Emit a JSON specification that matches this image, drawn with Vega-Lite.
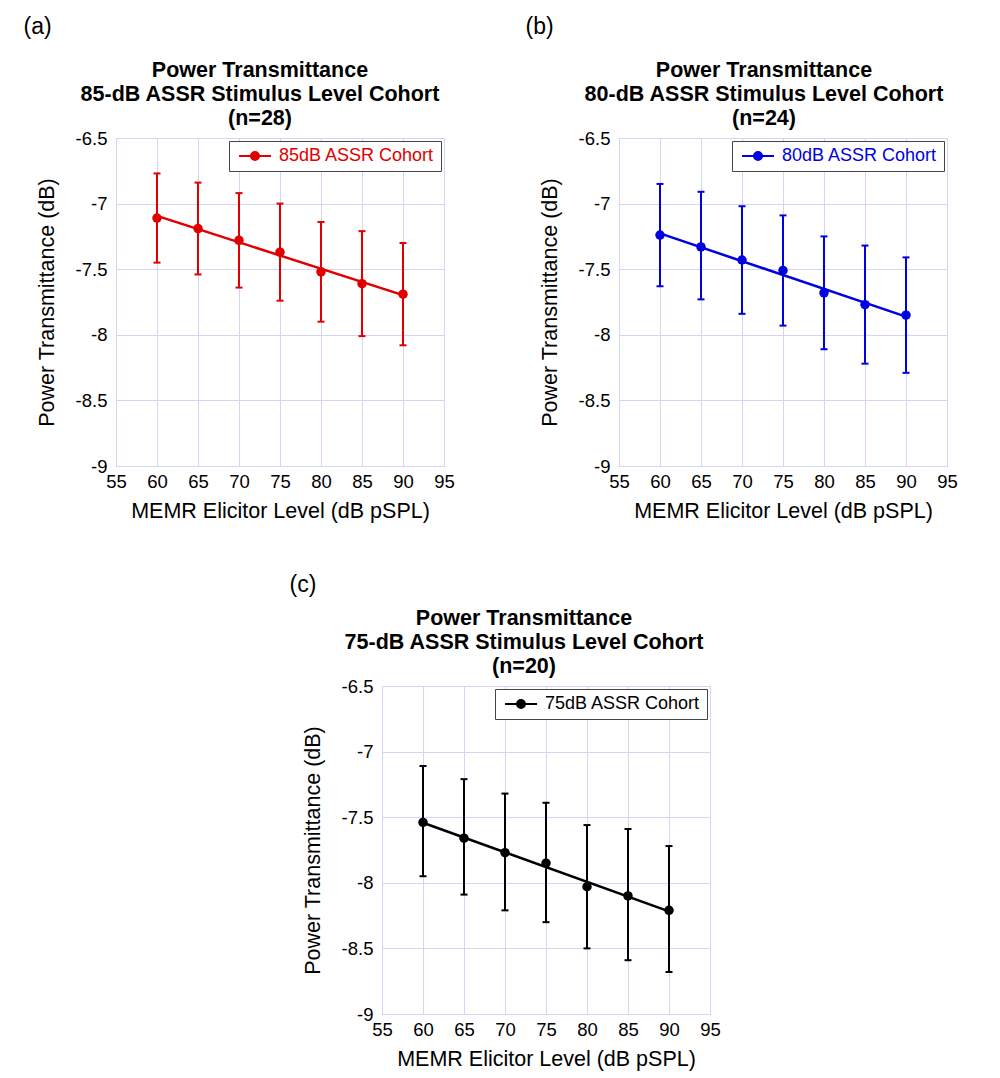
{
  "$schema": "https://vega.github.io/schema/vega-lite/v6.json",
  "background": "white",
  "padding": {"left": 23, "top": 16, "right": 0, "bottom": 0},
  "datasets": {
    "a": [
      {"x": 60, "y": -7.11, "lo": -7.45, "hi": -6.77, "series": "85dB ASSR Cohort"},
      {"x": 65, "y": -7.19, "lo": -7.54, "hi": -6.84, "series": "85dB ASSR Cohort"},
      {"x": 70, "y": -7.28, "lo": -7.64, "hi": -6.92, "series": "85dB ASSR Cohort"},
      {"x": 75, "y": -7.37, "lo": -7.74, "hi": -7.0, "series": "85dB ASSR Cohort"},
      {"x": 80, "y": -7.52, "lo": -7.9, "hi": -7.14, "series": "85dB ASSR Cohort"},
      {"x": 85, "y": -7.61, "lo": -8.01, "hi": -7.21, "series": "85dB ASSR Cohort"},
      {"x": 90, "y": -7.69, "lo": -8.08, "hi": -7.3, "series": "85dB ASSR Cohort"}
    ],
    "b": [
      {"x": 60, "y": -7.24, "lo": -7.63, "hi": -6.85, "series": "80dB ASSR Cohort"},
      {"x": 65, "y": -7.33, "lo": -7.73, "hi": -6.91, "series": "80dB ASSR Cohort"},
      {"x": 70, "y": -7.43, "lo": -7.84, "hi": -7.02, "series": "80dB ASSR Cohort"},
      {"x": 75, "y": -7.51, "lo": -7.93, "hi": -7.09, "series": "80dB ASSR Cohort"},
      {"x": 80, "y": -7.68, "lo": -8.11, "hi": -7.25, "series": "80dB ASSR Cohort"},
      {"x": 85, "y": -7.77, "lo": -8.22, "hi": -7.32, "series": "80dB ASSR Cohort"},
      {"x": 90, "y": -7.85, "lo": -8.29, "hi": -7.41, "series": "80dB ASSR Cohort"}
    ],
    "c": [
      {"x": 60, "y": -7.54, "lo": -7.95, "hi": -7.11, "series": "75dB ASSR Cohort"},
      {"x": 65, "y": -7.66, "lo": -8.09, "hi": -7.21, "series": "75dB ASSR Cohort"},
      {"x": 70, "y": -7.77, "lo": -8.21, "hi": -7.32, "series": "75dB ASSR Cohort"},
      {"x": 75, "y": -7.85, "lo": -8.3, "hi": -7.39, "series": "75dB ASSR Cohort"},
      {"x": 80, "y": -8.03, "lo": -8.5, "hi": -7.56, "series": "75dB ASSR Cohort"},
      {"x": 85, "y": -8.1, "lo": -8.59, "hi": -7.59, "series": "75dB ASSR Cohort"},
      {"x": 90, "y": -8.21, "lo": -8.68, "hi": -7.72, "series": "75dB ASSR Cohort"}
    ],
    "spacer": [{"k": 0}]
  },
  "config": {
    "font": "Liberation Sans",
    "view": {"stroke": "#b8b8ee", "strokeWidth": 1},
    "axis": {
      "grid": true, "gridColor": "#d4d4f6", "gridWidth": 1, "domain": false, "ticks": false,
      "labelFont": "Liberation Sans", "labelFontSize": 18.5, "labelColor": "#000", "labelFlush": false,
      "titleFont": "Liberation Sans", "titleFontSize": 21.5, "titleFontWeight": "normal", "titleColor": "#000"
    },
    "axisX": {"labelPadding": 6, "titlePadding": 10},
    "axisY": {"labelPadding": 9, "titlePadding": 17},
    "title": {"font": "Liberation Sans", "fontSize": 21.5, "fontWeight": "bold", "color": "#000", "lineHeight": 24}
  },
  "resolve": {"scale": {"color": "independent", "x": "independent", "y": "independent"}, "legend": {"color": "independent"}, "axis": {"x": "independent", "y": "independent"}},
  "spacing": 51,
  "vconcat": [
    {
      "spacing": 70,
      "resolve": {"scale": {"color": "independent", "x": "independent", "y": "independent"}, "legend": {"color": "independent"}, "axis": {"x": "independent", "y": "independent"}},
      "hconcat": [
        {
          "title": {"text": "(a)", "anchor": "start", "frame": "bounds", "fontSize": 23, "fontWeight": "normal", "dx": -12, "offset": 20},
          "resolve": {"scale": {"color": "independent"}, "legend": {"color": "independent"}},
          "vconcat": [
            {
              "width": 328, "height": 328,
              "title": {"text": ["Power Transmittance", "85-dB ASSR Stimulus Level Cohort", "(n=28)"], "anchor": "middle", "frame": "group", "dx": -20, "offset": 0},
              "data": {"name": "a"},
              "encoding": {
                "x": {"field": "x", "type": "quantitative", "title": "MEMR Elicitor Level (dB pSPL)", "scale": {"domain": [55, 95], "nice": false, "zero": false}, "axis": {"values": [55, 60, 65, 70, 75, 80, 85, 90, 95]}},
                "y": {"field": "y", "type": "quantitative", "title": "Power Transmittance (dB)", "scale": {"domain": [-9, -6.5], "nice": false, "zero": false}, "axis": {"values": [-9, -8.5, -8, -7.5, -7, -6.5], "labelExpr": "datum.value + ''"}}
              },
              "layer": [
                {"mark": {"type": "rule", "color": "#e00000", "strokeWidth": 2},
                 "encoding": {"y": {"field": "lo", "type": "quantitative", "title": "Power Transmittance (dB)"}, "y2": {"field": "hi"}}},
                {"mark": {"type": "tick", "orient": "horizontal", "size": 7, "thickness": 2, "color": "#e00000", "opacity": 1},
                 "encoding": {"y": {"field": "lo", "type": "quantitative", "title": "Power Transmittance (dB)"}}},
                {"mark": {"type": "tick", "orient": "horizontal", "size": 7, "thickness": 2, "color": "#e00000", "opacity": 1},
                 "encoding": {"y": {"field": "hi", "type": "quantitative", "title": "Power Transmittance (dB)"}}},
                {"transform": [{"regression": "y", "on": "x"}],
                 "mark": {"type": "line", "color": "#e00000", "strokeWidth": 2.5},
                 "encoding": {}},
                {"mark": {"type": "point", "filled": true, "size": 90, "opacity": 1},
                 "encoding": {
                   "color": {"field": "series", "type": "nominal", "scale": {"range": ["#e00000"]},
                     "legend": {"title": null, "orient": "top-right", "offset": 3, "padding": 6, "fillColor": "#ffffff", "strokeColor": "#444444",
                       "symbolType": "M-1,0H5.4M3,0A0.8,0.8,0,1,1,1.4,0A0.8,0.8,0,1,1,3,0Z", "symbolSize": 100, "symbolStrokeWidth": 2, "symbolStrokeColor": "#e00000", "symbolOpacity": 1,
                       "labelFont": "Liberation Sans", "labelFontSize": 18, "labelColor": "#e00000", "labelOffset": 26}}}}
              ]
            }
          ]
        },
        {
          "title": {"text": "(b)", "anchor": "start", "frame": "bounds", "fontSize": 23, "fontWeight": "normal", "dx": -13, "offset": 20},
          "resolve": {"scale": {"color": "independent"}, "legend": {"color": "independent"}},
          "vconcat": [
            {
              "width": 328, "height": 328,
              "title": {"text": ["Power Transmittance", "80-dB ASSR Stimulus Level Cohort", "(n=24)"], "anchor": "middle", "frame": "group", "dx": -19, "offset": 0},
              "data": {"name": "b"},
              "encoding": {
                "x": {"field": "x", "type": "quantitative", "title": "MEMR Elicitor Level (dB pSPL)", "scale": {"domain": [55, 95], "nice": false, "zero": false}, "axis": {"values": [55, 60, 65, 70, 75, 80, 85, 90, 95]}},
                "y": {"field": "y", "type": "quantitative", "title": "Power Transmittance (dB)", "scale": {"domain": [-9, -6.5], "nice": false, "zero": false}, "axis": {"values": [-9, -8.5, -8, -7.5, -7, -6.5], "labelExpr": "datum.value + ''"}}
              },
              "layer": [
                {"mark": {"type": "rule", "color": "#0000e0", "strokeWidth": 2},
                 "encoding": {"y": {"field": "lo", "type": "quantitative", "title": "Power Transmittance (dB)"}, "y2": {"field": "hi"}}},
                {"mark": {"type": "tick", "orient": "horizontal", "size": 7, "thickness": 2, "color": "#0000e0", "opacity": 1},
                 "encoding": {"y": {"field": "lo", "type": "quantitative", "title": "Power Transmittance (dB)"}}},
                {"mark": {"type": "tick", "orient": "horizontal", "size": 7, "thickness": 2, "color": "#0000e0", "opacity": 1},
                 "encoding": {"y": {"field": "hi", "type": "quantitative", "title": "Power Transmittance (dB)"}}},
                {"transform": [{"regression": "y", "on": "x"}],
                 "mark": {"type": "line", "color": "#0000e0", "strokeWidth": 2.5},
                 "encoding": {}},
                {"mark": {"type": "point", "filled": true, "size": 90, "opacity": 1},
                 "encoding": {
                   "color": {"field": "series", "type": "nominal", "scale": {"range": ["#0000e0"]},
                     "legend": {"title": null, "orient": "top-right", "offset": 3, "padding": 6, "fillColor": "#ffffff", "strokeColor": "#444444",
                       "symbolType": "M-1,0H5.4M3,0A0.8,0.8,0,1,1,1.4,0A0.8,0.8,0,1,1,3,0Z", "symbolSize": 100, "symbolStrokeWidth": 2, "symbolStrokeColor": "#0000e0", "symbolOpacity": 1,
                       "labelFont": "Liberation Sans", "labelFontSize": 18, "labelColor": "#0000e0", "labelOffset": 26}}}}
              ]
            }
          ]
        }
      ]
    },
    {
      "spacing": 20,
      "resolve": {"scale": {"color": "independent", "x": "independent", "y": "independent"}, "legend": {"color": "independent"}, "axis": {"x": "independent", "y": "independent"}},
      "hconcat": [
        {
          "width": 152, "height": 10,
          "view": {"stroke": "transparent", "fill": "transparent"},
          "data": {"name": "spacer"},
          "mark": {"type": "point", "opacity": 0},
          "encoding": {}
        },
        {
          "title": {"text": "(c)", "anchor": "start", "frame": "bounds", "fontSize": 23, "fontWeight": "normal", "dx": -12, "offset": 10},
          "resolve": {"scale": {"color": "independent"}, "legend": {"color": "independent"}},
          "vconcat": [
            {
              "width": 328, "height": 328,
              "title": {"text": ["Power Transmittance", "75-dB ASSR Stimulus Level Cohort", "(n=20)"], "anchor": "middle", "frame": "group", "dx": -22, "offset": 0},
              "data": {"name": "c"},
              "encoding": {
                "x": {"field": "x", "type": "quantitative", "title": "MEMR Elicitor Level (dB pSPL)", "scale": {"domain": [55, 95], "nice": false, "zero": false}, "axis": {"values": [55, 60, 65, 70, 75, 80, 85, 90, 95]}},
                "y": {"field": "y", "type": "quantitative", "title": "Power Transmittance (dB)", "scale": {"domain": [-9, -6.5], "nice": false, "zero": false}, "axis": {"values": [-9, -8.5, -8, -7.5, -7, -6.5], "labelExpr": "datum.value + ''"}}
              },
              "layer": [
                {"mark": {"type": "rule", "color": "#000000", "strokeWidth": 2},
                 "encoding": {"y": {"field": "lo", "type": "quantitative", "title": "Power Transmittance (dB)"}, "y2": {"field": "hi"}}},
                {"mark": {"type": "tick", "orient": "horizontal", "size": 7, "thickness": 2, "color": "#000000", "opacity": 1},
                 "encoding": {"y": {"field": "lo", "type": "quantitative", "title": "Power Transmittance (dB)"}}},
                {"mark": {"type": "tick", "orient": "horizontal", "size": 7, "thickness": 2, "color": "#000000", "opacity": 1},
                 "encoding": {"y": {"field": "hi", "type": "quantitative", "title": "Power Transmittance (dB)"}}},
                {"transform": [{"regression": "y", "on": "x"}],
                 "mark": {"type": "line", "color": "#000000", "strokeWidth": 2.5},
                 "encoding": {}},
                {"mark": {"type": "point", "filled": true, "size": 90, "opacity": 1},
                 "encoding": {
                   "color": {"field": "series", "type": "nominal", "scale": {"range": ["#000000"]},
                     "legend": {"title": null, "orient": "top-right", "offset": 3, "padding": 6, "fillColor": "#ffffff", "strokeColor": "#444444",
                       "symbolType": "M-1,0H5.4M3,0A0.8,0.8,0,1,1,1.4,0A0.8,0.8,0,1,1,3,0Z", "symbolSize": 100, "symbolStrokeWidth": 2, "symbolStrokeColor": "#000000", "symbolOpacity": 1,
                       "labelFont": "Liberation Sans", "labelFontSize": 18, "labelColor": "#000000", "labelOffset": 26}}}}
              ]
            }
          ]
        }
      ]
    }
  ]
}
